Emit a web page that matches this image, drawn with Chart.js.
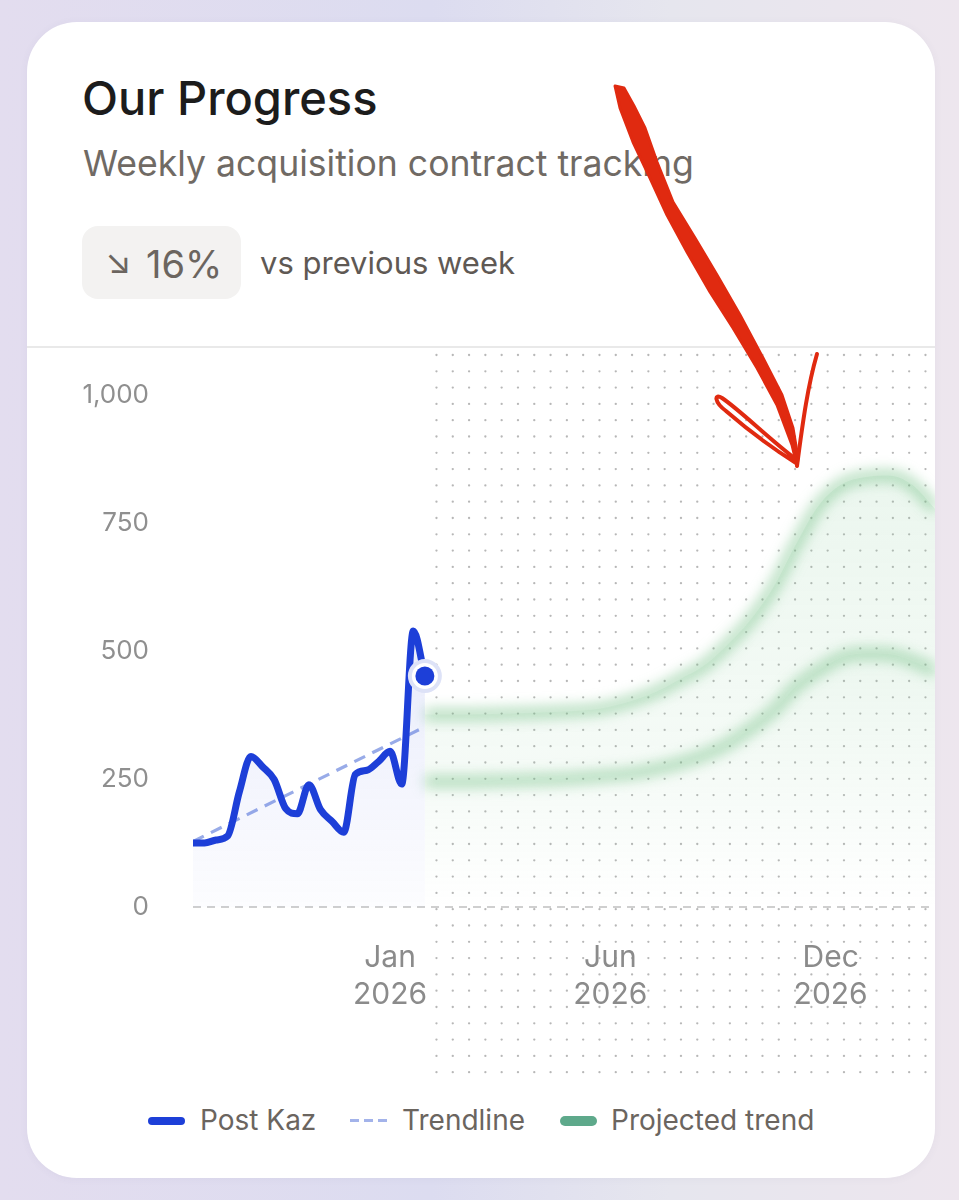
<!DOCTYPE html>
<html><head><meta charset="utf-8">
<script src="https://cdn.jsdelivr.net/npm/chart.js@4.4.1/dist/chart.umd.min.js"></script>
<style>
html,body{margin:0;padding:0;}
body{width:959px;height:1200px;overflow:hidden;position:relative;font-family:Inter,"Noto Sans",sans-serif;
background:linear-gradient(90deg,#e3ddef 0%,#dcdcf0 45%,#e6e6ee 70%,#ede6ee 100%);}
.card{position:absolute;left:27px;top:22px;width:908px;height:1156px;border-radius:50px;background:#fff;overflow:hidden;box-shadow:0 1px 8px rgba(80,70,110,0.05);}
.abs{position:absolute;line-height:1;white-space:nowrap;}
.title{left:55px;top:52px;font-size:47px;font-weight:500;color:#1c1c1c;}
.sub{left:56px;top:124px;font-size:35.6px;color:#706a64;}
.badge{position:absolute;left:55px;top:204px;width:159px;height:73px;border-radius:16px;background:#f3f2f1;}
.barrow{left:23px;top:18px;font-size:34px;color:#6b655f;}
.btxt{left:64px;top:19px;font-size:38px;color:#6b655f;}
.vs{left:233px;top:225px;font-size:31px;color:#5f5954;}
.divider{position:absolute;left:0;top:324px;width:908px;height:2px;background:#e9e9e9;}
.chartbox{position:absolute;left:0;top:328px;width:908px;height:740px;}
.lt{top:1084px;font-size:28px;color:#6b655f;}
.sw{position:absolute;}
</style></head>
<body>
<div class="card">
  <div class="abs title">Our Progress</div>
  <div class="abs sub">Weekly acquisition contract tracking</div>
  <div class="badge"><span class="abs barrow">↘</span><span class="abs btxt">16%</span></div>
  <div class="abs vs">vs previous week</div>
  <div class="divider"></div>
  <div class="chartbox"><canvas id="c"></canvas></div>
  <span class="sw" style="left:121px;top:1095px;width:37px;height:8px;border-radius:4px;background:#1d3fd8"></span>
  <span class="abs lt" style="left:173px">Post Kaz</span>
  <span class="sw" style="left:323px;top:1097px;width:38px;height:3px;background:repeating-linear-gradient(90deg,#a3b3ea 0 9px,transparent 9px 14px)"></span>
  <span class="abs lt" style="left:375px">Trendline</span>
  <span class="sw" style="left:533px;top:1094px;width:37px;height:10px;border-radius:5px;background:#5ea98b"></span>
  <span class="abs lt" style="left:584px">Projected trend</span>
</div>
<svg style="position:absolute;left:0;top:0;pointer-events:none" width="959" height="1200">
  <path d="M615,86 L620,108 L633,142 L650,178 L667,215 L687,252 L710,292 L733,328 L757,368 L777,405 L792,445 L797,466 L798,458 L793,428 L782,395 L763,358 L740,315 L717,275 L695,238 L673,202 L657,162 L645,128 L634,106 L624,88 Z" fill="#e02a10" stroke="#e02a10" stroke-width="3" stroke-linejoin="round"/>
  <path d="M797,466 C803,420 808,385 817,354" fill="none" stroke="#e02a10" stroke-width="4" stroke-linecap="round"/>
  <path d="M797,460 C770,440 740,410 722,398 C714,393 714,402 726,411 C748,430 775,450 796,463" fill="none" stroke="#e02a10" stroke-width="4" stroke-linecap="round"/>
</svg>
<script>
// ---- data ----
const postKazWeeks = [0,1,2,3,4,5,6,7,8,9,10,11,12,13,14,15,16,17,18,19,20];
const postKazValues = [125,125,131,139,225,294,274,249,192,182,239,190,167,146,259,267,284,304,240,539,451];
const trendWeeks = [0,20];
const trendValues = [128,352];
const projWeeks = [20,23,26,29,32,35,38,40,42,44,46,48,50,52,54,56,58,60,62,64];
const projHigh = [376,376,377,379,382,387,404,421,445,470,510,558,622,708,785,826,840,843,825,778];
const projLow  = [245,245,246,248,250,255,261,270,281,296,317,347,382,430,463,488,495,494,481,461];
const tickWeeks = [17,36,55];
const tickLabels = [['Jan','2026'],['Jun','2026'],['Dec','2026']];
const yTicks = [0,250,500,750,1000];
const dotsStartWeek = 21;
const xMax = 64;

const pts = (xs, ys) => xs.map((x,i)=>({x, y: ys[i]}));

const dotGrid = {
  id:'dotGrid',
  beforeDraw(chart){
    const {ctx, scales:{x}} = chart;
    const x0 = x.getPixelForValue(dotsStartWeek);
    ctx.save(); ctx.fillStyle='rgba(145,145,145,0.65)';
    for (let px = x0; px < chart.width; px += 16.3)
      for (let py = 5; py < chart.height - 2; py += 16.3) { ctx.beginPath(); ctx.arc(px,py,1.15,0,Math.PI*2); ctx.fill(); }
    ctx.restore();
  }
};
const glow = {
  id:'glow',
  beforeDatasetDraw(chart,args){ if(chart.data.datasets[args.index].glow){ chart.ctx.save(); chart.ctx.filter='blur(6.5px)'; } },
  afterDatasetDraw(chart,args){ if(chart.data.datasets[args.index].glow){ chart.ctx.restore(); } }
};
const lastMarker = {
  id:'lastMarker',
  afterDatasetsDraw(chart){
    const meta = chart.getDatasetMeta(0); const p = meta.data[meta.data.length-1];
    const ctx = chart.ctx; ctx.save();
    [[17,'#dde2f7'],[13,'#ffffff'],[9.5,'#1d3fd8']].forEach(([r,c])=>{ctx.beginPath();ctx.arc(p.x,p.y,r,0,Math.PI*2);ctx.fillStyle=c;ctx.fill();});
    ctx.restore();
  }
};
function vGrad(topVal, c1, c2){
  return (ctx)=>{
    const ch = ctx.chart; if(!ch.chartArea) return 'transparent';
    const y = ch.scales.y;
    const g = ch.ctx.createLinearGradient(0, y.getPixelForValue(topVal), 0, y.getPixelForValue(0));
    g.addColorStop(0,c1); g.addColorStop(1,c2); return g;
  };
}

new Chart(document.getElementById('c'), {
  type:'line',
  data:{ datasets:[
    { label:'Post Kaz', data:pts(postKazWeeks, postKazValues), borderColor:'#1d3fd8', borderWidth:7,
      cubicInterpolationMode:'monotone', pointRadius:0, fill:'origin',
      backgroundColor: vGrad(540,'rgba(70,95,225,0.12)','rgba(70,95,225,0.015)'), order:0 },
    { label:'Trendline', data:pts(trendWeeks, trendValues), borderColor:'#98abe8', borderWidth:3.2,
      borderDash:[12,8], pointRadius:0, fill:false, order:1 },
    { label:'Projected low', data:pts(projWeeks, projLow), borderColor:'rgba(110,190,128,0.5)', borderWidth:12,
      cubicInterpolationMode:'monotone', pointRadius:0, fill:'origin', glow:true,
      backgroundColor: vGrad(520,'rgba(130,200,150,0.16)','rgba(130,200,150,0)'), order:2 },
    { label:'Projected trend', data:pts(projWeeks, projHigh), borderColor:'rgba(110,190,128,0.5)', borderWidth:12,
      cubicInterpolationMode:'monotone', pointRadius:0, fill:'-1', glow:true,
      backgroundColor: vGrad(850,'rgba(130,200,150,0.16)','rgba(130,200,150,0.04)'), order:3 }
  ]},
  options:{
    responsive:true, maintainAspectRatio:false, animation:false,
    layout:{padding:{top:45,bottom:75,left:0,right:0}},
    plugins:{legend:{display:false}, tooltip:{enabled:false}},
    events:[],
    scales:{
      x:{ type:'linear', min:0, max:xMax,
        afterFit(s){ s.height = 108; },
        afterBuildTicks(s){ s.ticks = tickWeeks.map(v=>({value:v})); },
        grid:{display:false, drawTicks:false}, border:{display:false},
        ticks:{ autoSkip:false, maxRotation:0, padding:33, color:'#8b8b8b',
          font:{family:'Inter', size:30, lineHeight:1.23},
          callback:(v,i)=>tickLabels[i] }
      },
      y:{ min:0, max:1000,
        afterFit(s){ s.width = 166; s.paddingTop = 0; s.paddingBottom = 0; },
        afterBuildTicks(s){ s.ticks = yTicks.map(v=>({value:v})); },
        grid:{ drawTicks:false, lineWidth:2, color:(c)=> c.tick && c.tick.value===0 ? '#cfcfcf' : 'rgba(0,0,0,0)' },
        border:{display:false, dash:[8,6]},
        ticks:{ padding:44, color:'#8f8f8f', font:{family:'Inter', size:26},
          callback:(v)=>v.toLocaleString('en-US') }
      }
    }
  },
  plugins:[dotGrid, glow, lastMarker]
});
</script>
</body></html>
